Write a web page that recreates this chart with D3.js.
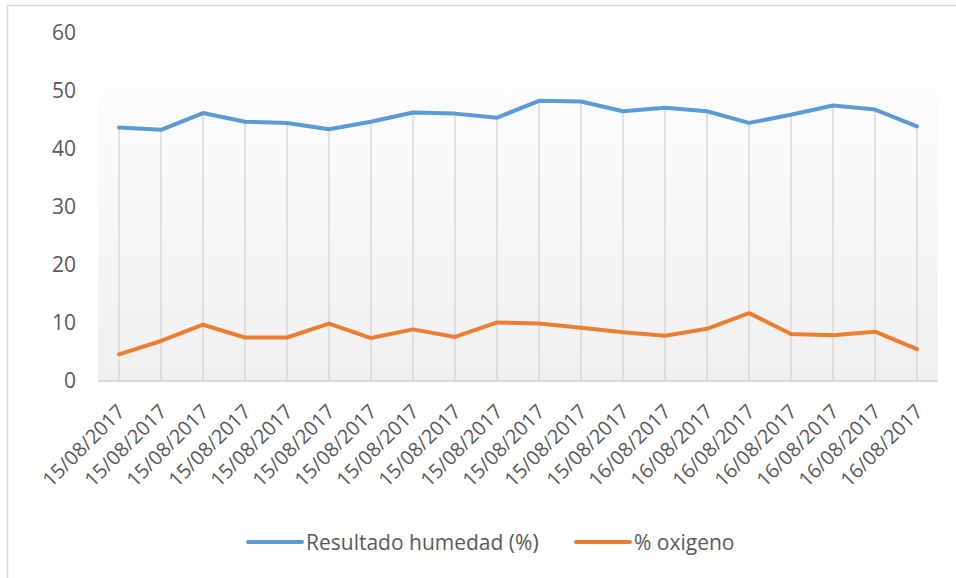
<!doctype html>
<html>
  <head>
    <meta charset="utf-8">
    <script src="https://cdnjs.cloudflare.com/ajax/libs/d3/7.8.5/d3.min.js"></script>
    <style>
      body { margin: 0; background: #fff; }
      text { font-family: "Open Sans", sans-serif; fill: #595959; }
    </style>
  </head>
  <body>
    <svg width="956" height="578"></svg>
    <script>
        var dates = ["15/08/2017", "15/08/2017", "15/08/2017", "15/08/2017", "15/08/2017",
                     "15/08/2017", "15/08/2017", "15/08/2017", "15/08/2017", "15/08/2017",
                     "15/08/2017", "15/08/2017", "15/08/2017", "16/08/2017", "16/08/2017",
                     "16/08/2017", "16/08/2017", "16/08/2017", "16/08/2017", "16/08/2017"];
        var humedad = [43.7, 43.3, 46.2, 44.7, 44.5, 43.4, 44.7, 46.3, 46.1, 45.4,
                       48.3, 48.2, 46.5, 47.1, 46.5, 44.5, 45.9, 47.5, 46.8, 43.9];
        var oxigeno = [4.6, 6.9, 9.7, 7.5, 7.5, 9.9, 7.4, 8.9, 7.6, 10.1,
                       9.9, 9.2, 8.4, 7.8, 9.0, 11.7, 8.1, 7.9, 8.5, 5.5];
        var yTicks = [0, 10, 20, 30, 40, 50, 60];
        var seriesNames = ["Resultado humedad (%)", "% oxigeno"];
        var colors = ["#5b9bd5", "#ed7d31"];

        var svg = d3.select("svg");

        // chart frame (only left/top visible in the picture)
        svg.append("rect")
            .attr("x", 7.5).attr("y", 5.5)
            .attr("width", 970).attr("height", 600)
            .attr("fill", "none")
            .attr("stroke", "#d9d9d9")
            .attr("stroke-width", 1.5);

        var xScale = d3.scaleBand().domain(d3.range(dates.length)).range([98, 938]);
        var yScale = d3.scaleLinear().domain([0, 60]).range([381, 33]);
        var cx = i => xScale(i) + xScale.bandwidth() / 2;

        var grad = svg.append("defs").append("linearGradient")
            .attr("id", "bg").attr("x1", 0).attr("y1", 0).attr("x2", 0).attr("y2", 1);
        grad.append("stop").attr("offset", "0%").attr("stop-color", "#ffffff");
        grad.append("stop").attr("offset", "100%").attr("stop-color", "#f0f0f0");

        svg.append("rect")
            .attr("x", 98).attr("y", yScale(60))
            .attr("width", 840).attr("height", yScale(0) - yScale(60))
            .attr("fill", "url(#bg)");

        // drop lines
        svg.selectAll("line.drop")
            .data(humedad)
            .enter()
            .append("line")
            .attr("class", "drop")
            .attr("x1", (d, i) => cx(i)).attr("x2", (d, i) => cx(i))
            .attr("y1", d => yScale(d)).attr("y2", yScale(0))
            .attr("stroke", "#d9d9d9")
            .attr("stroke-width", 1.5);

        // baseline
        svg.append("line")
            .attr("x1", 98).attr("x2", 938)
            .attr("y1", yScale(0)).attr("y2", yScale(0))
            .attr("stroke", "#d9d9d9")
            .attr("stroke-width", 2);

        // y axis labels
        var yAxis = d3.axisLeft(yScale).tickValues(yTicks).tickSize(0).tickPadding(0);
        var gy = svg.append("g")
            .attr("transform", "translate(76,0)")
            .call(yAxis);
        gy.select(".domain").remove();
        gy.selectAll("text")
            .style("font-family", "'Open Sans', sans-serif")
            .style("font-size", "21px")
            .attr("fill", "#595959");

        // x labels
        svg.selectAll("text.xlab")
            .data(dates)
            .enter()
            .append("text")
            .attr("class", "xlab")
            .attr("text-anchor", "end")
            .attr("transform", (d, i) => "translate(" + (cx(i) + 7) + ",413) rotate(-45)")
            .style("font-size", "20px")
            .text(d => d);

        var line = d3.line().x((d, i) => cx(i)).y(d => yScale(d));

        [humedad, oxigeno].forEach(function(s, k) {
            svg.append("path")
                .datum(s)
                .attr("d", line)
                .attr("fill", "none")
                .attr("stroke", colors[k])
                .attr("stroke-width", 4)
                .attr("stroke-linejoin", "round")
                .attr("stroke-linecap", "round");
        });

        // legend
        var legendX = [248, 576];
        seriesNames.forEach(function(name, k) {
            svg.append("line")
                .attr("x1", legendX[k]).attr("x2", legendX[k] + 54)
                .attr("y1", 542).attr("y2", 542)
                .attr("stroke", colors[k])
                .attr("stroke-width", 4)
                .attr("stroke-linecap", "round");
            svg.append("text")
                .attr("x", legendX[k] + 58).attr("y", 549.5)
                .style("font-size", "21px")
                .text(name);
        });
    </script>
  </body>
</html>
